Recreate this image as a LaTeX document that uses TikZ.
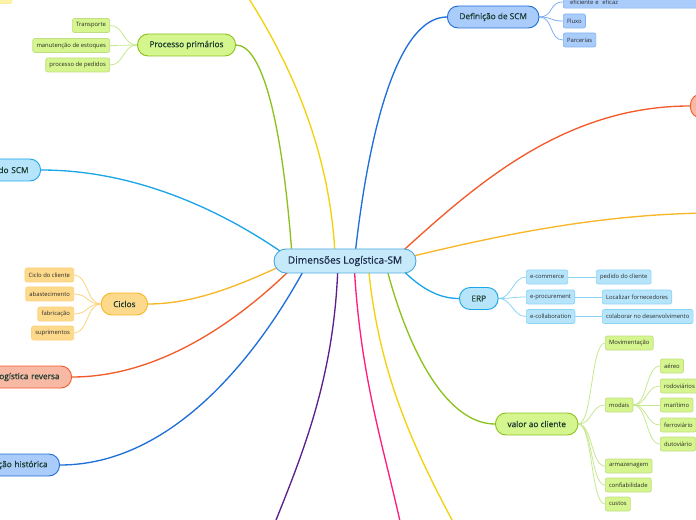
\documentclass[tikz,border=0pt]{standalone}
\usepackage{fontspec}
\setmainfont{Open Sans}
\newfontfamily\topicfont{Open Sans}[FakeBold=0.6]
\usepackage{tikz}
\usetikzlibrary{calc, backgrounds, positioning}

\definecolor{rootfill}{HTML}{C7EAFB}
\definecolor{rootline}{HTML}{4BA9DC}
\definecolor{grnfill}{HTML}{D5F58E}
\definecolor{grnline}{HTML}{8CC21E}
\definecolor{grnsoft}{HTML}{C6E88F}
\definecolor{cyafill}{HTML}{B6E5FB}
\definecolor{cyaline}{HTML}{1CA6E8}
\definecolor{cyasoft}{HTML}{8CD4F4}
\definecolor{orgfill}{HTML}{FDD98B}
\definecolor{orgline}{HTML}{F8B626}
\definecolor{orgsoft}{HTML}{FBD47C}
\definecolor{redfill}{HTML}{F8B9A4}
\definecolor{redline}{HTML}{F15A29}
\definecolor{blufill}{HTML}{A9CCFB}
\definecolor{bluline}{HTML}{1F6FD8}
\definecolor{blusoft}{HTML}{7FB0F0}
\definecolor{purline}{HTML}{5C1F8C}
\definecolor{pnkline}{HTML}{FF1F7A}
\definecolor{ylwline}{HTML}{F4D10C}
\definecolor{ylwfill}{HTML}{FDF3A6}
\definecolor{txtmain}{HTML}{1B3B2E}
\definecolor{txtroot}{HTML}{1B2A4A}
\definecolor{txtsub}{HTML}{2A2A2A}

\begin{document}
\begin{tikzpicture}[x=0.75pt,y=-0.75pt,
    topic/.style={draw, rounded corners=8pt, line width=0.7pt, minimum height=16.5pt, inner xsep=9pt, inner ysep=0pt, text=txtmain, font=\topicfont\fontsize{6.2}{7}\selectfont},
    sub/.style={draw, rounded corners=1.5pt, line width=0.5pt, minimum height=10.5pt, inner xsep=2.8pt, inner ysep=0pt, text=txtsub, font=\fontsize{4.4}{5}\selectfont},
    cut/.style={text width=#1, align=right},
    link/.style={line width=1pt},
    twig/.style={line width=0.6pt}]
    \useasboundingbox (0,0) rectangle (696,520);
    \clip (0,0) rectangle (696,520);

    % centro
    \node[topic, fill=rootfill, draw=rootline, minimum width=106.5pt, minimum height=18pt, rounded corners=9pt, text=txtroot, font=\topicfont\fontsize{7.6}{9}\selectfont] (root) at (345,261) {Dimensões Logística-SM};

    % ramos principais
    \node[topic, fill=grnfill, draw=grnline, anchor=east] (proc) at (236,45) {Processo primários};
    \node[topic, fill=cyafill, draw=cyaline, anchor=east, cut=60pt] (scm) at (41,170) {do SCM};
    \node[topic, fill=orgfill, draw=orgline, anchor=east] (cic) at (148,304) {Ciclos};
    \node[topic, fill=redfill, draw=redline, anchor=east, cut=70pt] (rev) at (72,377) {ogística reversa};
    \node[topic, fill=blufill, draw=bluline, anchor=east, cut=70pt] (hist) at (60,465) {ção histórica};
    \node[topic, fill=blufill, draw=bluline, anchor=west] (defi) at (447,17) {Definição de SCM};
    \node[topic, fill=redfill, draw=redline, anchor=west, minimum width=60pt, minimum height=18pt] (rnode) at (690,106) {};
    \node[topic, fill=cyafill, draw=cyaline, anchor=west] (erp) at (459,298.5) {ERP};
    \node[topic, fill=grnfill, draw=grnline, anchor=west] (valor) at (495,424) {valor ao cliente};
    \node[sub, fill=ylwfill, draw=ylwline!45, minimum width=40pt, anchor=south east] (ylw) at (12,4) {};
    \coordinate (pend) at (270,535);
    \coordinate (kend) at (403,535);
    \coordinate (yend) at (460,535);
    \coordinate (tend) at (240,-15);
    \coordinate (oend) at (710,213);

    % Processo primários
    \node[sub, fill=grnfill, draw=grnline!55, anchor=east] (tr) at (110,25.5) {Transporte};
    \node[sub, fill=grnfill, draw=grnline!55, anchor=east] (me) at (110,45.5) {manutenção de estoques};
    \node[sub, fill=grnfill, draw=grnline!55, anchor=east] (pp) at (110,65) {processo de pedidos};

    % Ciclos
    \node[sub, fill=orgfill, draw=orgline!60, anchor=east] (cc) at (74,275) {Ciclo do cliente};
    \node[sub, fill=orgfill, draw=orgline!60, anchor=east] (ab) at (74,294) {abastecimento};
    \node[sub, fill=orgfill, draw=orgline!60, anchor=east] (fa) at (74,314) {fabricação};
    \node[sub, fill=orgfill, draw=orgline!60, anchor=east] (su) at (74,333) {suprimentos};

    % Definição de SCM
    \node[sub, fill=blufill, draw=blusoft, anchor=south west, minimum height=0pt, inner ysep=3pt, minimum width=120pt, cut=110pt, align=left] (ef) at (563,8.5) {eficiente e \ eficaz};
    \node[sub, fill=blufill, draw=blusoft, anchor=west] (fl) at (563,21) {Fluxo};
    \node[sub, fill=blufill, draw=blusoft, anchor=west] (pa) at (563,40) {Parcerias};

    % ERP
    \node[sub, fill=cyafill, draw=cyasoft, anchor=west] (ec) at (526,277) {e-commerce};
    \node[sub, fill=cyafill, draw=cyasoft, anchor=west] (ep) at (526,297) {e-procurement};
    \node[sub, fill=cyafill, draw=cyasoft, anchor=west] (eo) at (526,316.5) {e-collaboration};
    \node[sub, fill=cyafill, draw=cyasoft, anchor=west] (pc) at (596,277) {pedido do cliente};
    \node[sub, fill=cyafill, draw=cyasoft, anchor=west] (lf) at (602,297) {Localizar fornecedores};
    \node[sub, fill=cyafill, draw=cyasoft, anchor=west] (cd) at (602,316.5) {colaborar no desenvolvimento};

    % valor ao cliente
    \node[sub, fill=grnfill, draw=grnline!55, anchor=west] (mv) at (605,343) {Movimentação};
    \node[sub, fill=grnfill, draw=grnline!55, anchor=west] (mo) at (605,405) {modais};
    \node[sub, fill=grnfill, draw=grnline!55, anchor=west] (ar) at (605,466) {armazenagem};
    \node[sub, fill=grnfill, draw=grnline!55, anchor=west] (co) at (605,485) {confiabilidade};
    \node[sub, fill=grnfill, draw=grnline!55, anchor=west] (cu) at (605,504) {custos};
    \node[sub, fill=grnfill, draw=grnline!55, anchor=west] (ae) at (660,366) {aéreo};
    \node[sub, fill=grnfill, draw=grnline!55, anchor=west] (ro) at (660,386) {rodoviários};
    \node[sub, fill=grnfill, draw=grnline!55, anchor=west] (ma) at (660,405) {marítimo};
    \node[sub, fill=grnfill, draw=grnline!55, anchor=west] (fe) at (660,425) {ferroviário};
    \node[sub, fill=grnfill, draw=grnline!55, anchor=west] (du) at (660,444) {dutoviário};

    \begin{scope}[on background layer]
        \clip (0,0) rectangle (696,520);
        % ligações do centro
        \draw[link, grnline] ($(root.center)+(-53,-6)$) .. controls +(-10,-135) and +(26,0) .. (proc.east);
        \draw[link, cyaline] ($(root.center)+(-55,-3)$) .. controls +(-60,-43) and +(100,0) .. (scm.east);
        \draw[link, orgline] ($(root.center)+(-55,1)$) .. controls +(-40,18) and +(52,0) .. (cic.east);
        \draw[link, redline] ($(root.center)+(-50,4)$) .. controls +(-55,55) and +(88,0) .. (rev.east);
        \draw[link, bluline] ($(root.center)+(-40,7)$) .. controls +(-50,92) and +(110,0) .. (hist.east);
        \draw[link, purline] ($(root.center)+(-7,1)$) .. controls +(-3,118) and +(30,-75) .. (pend);
        \draw[link, pnkline] ($(root.center)+(9,1)$) .. controls +(6,118) and +(-18,-85) .. (kend);
        \draw[link, ylwline] ($(root.center)+(23,1)$) .. controls +(10,118) and +(-40,-75) .. (yend);
        \draw[link, ylwline] ($(root.center)+(-10,-6)$) .. controls +(-5,-105) and +(50,75) .. (tend);
        \draw[link, bluline] ($(root.center)+(10,-6)$) .. controls +(15,-135) and +(-47,0) .. (defi.west);
        \draw[link, redline] ($(root.center)+(50,-3)$) .. controls +(75,-68) and +(-130,0) .. (rnode.west);
        \draw[link, orgline] ($(root.center)+(60,-3)$) .. controls +(95,-23) and +(-110,1) .. (oend);
        \draw[link, cyaline] ($(root.center)+(50,1)$) .. controls +(25,28) and +(-19,0) .. (erp.west);
        \draw[link, grnline] ($(root.center)+(40,1)$) .. controls +(25,98) and +(-45,0) .. (valor.west);

        % ligações dos subtópicos
        \foreach \c in {tr,me,pp}
            \draw[twig, grnsoft] (proc.west) .. controls +(-14,0) and +(14,0) .. (\c.east);
        \foreach \c in {cc,ab,fa,su}
            \draw[twig, orgsoft] (cic.west) .. controls +(-14,0) and +(14,0) .. (\c.east);
        \foreach \c in {ef,fl,pa}
            \draw[twig, blusoft] (defi.east) .. controls +(14,0) and +(-14,0) .. (\c.west);
        \foreach \c in {ec,ep,eo}
            \draw[twig, cyasoft] (erp.east) .. controls +(13,0) and +(-13,0) .. (\c.west);
        \draw[twig, cyasoft] (ec.east) -- (pc.west);
        \draw[twig, cyasoft] (ep.east) -- (lf.west);
        \draw[twig, cyasoft] (eo.east) -- (cd.west);
        \foreach \c in {mv,mo,ar,co,cu}
            \draw[twig, grnsoft] (valor.east) .. controls +(14,0) and +(-14,0) .. (\c.west);
        \foreach \c in {ae,ro,ma,fe,du}
            \draw[twig, grnsoft] (mo.east) .. controls +(14,0) and +(-14,0) .. (\c.west);
    \end{scope}
\end{tikzpicture}
\end{document}
